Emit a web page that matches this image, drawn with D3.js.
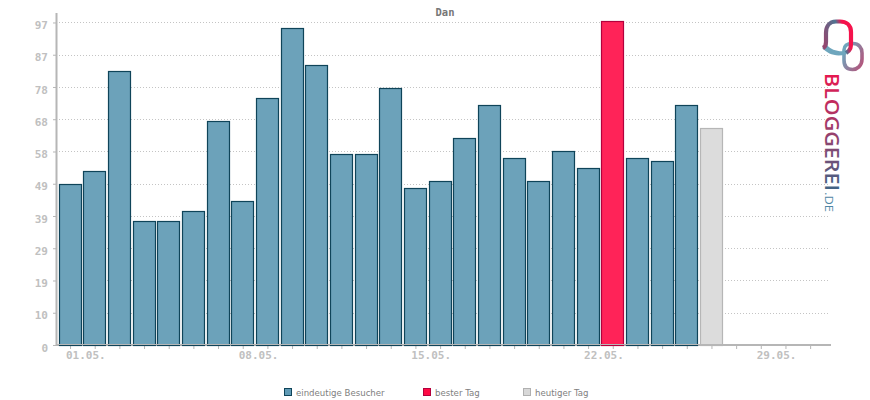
<!DOCTYPE html>
<html>
<head>
<meta charset="utf-8">
<script src="https://cdnjs.cloudflare.com/ajax/libs/d3/7.8.5/d3.min.js"></script>
<style>
  html, body { margin: 0; padding: 0; background: #fff; }
  svg { display: block; }
  text { font-family: "DejaVu Sans Mono", monospace; }
</style>
</head>
<body>
<div id="chart"></div>
<script>
// values
var days = ["01","02","03","04","05","06","07","08","09","10","11","12","13","14","15","16",
            "17","18","19","20","21","22","23","24","25","26","27","28","29","30","31"];
var visitors = [48,52,82,37,37,40,67,43,74,95,84,57,57,77,47,49,62,72,56,49,58,53,97,56,55,72,65];
var bestDay = "23";
var today = "27";
var labelDays = ["01","08","15","22","29"];
var yTicks = [0,9.7,19.4,29.1,38.8,48.5,58.2,67.9,77.6,87.3,97];
var yMax = 100;
var legendNames = ["eindeutige Besucher","bester Tag","heutiger Tag"];

var w = 870, h = 400;
var margin = {top: 12.5, right: 40, bottom: 55, left: 56};

var svg = d3.select("#chart").append("svg")
    .attr("width", w)
    .attr("height", h);

var x = d3.scaleBand()
    .domain(days)
    .range([58.2, 58.2 + 24.67 * 31]);

var y = d3.scaleLinear()
    .domain([0, yMax])
    .range([h - margin.bottom, margin.top]);

var axisColor = "#b6b6b6";

// grid
svg.append("g").selectAll("line")
    .data(yTicks.slice(1))
    .enter().append("line")
    .attr("x1", margin.left)
    .attr("x2", w - margin.right - 1)
    .attr("y1", function(d) { return Math.round(y(d)) + 0.5; })
    .attr("y2", function(d) { return Math.round(y(d)) + 0.5; })
    .attr("stroke", "#c4c4c4")
    .attr("stroke-dasharray", "1,2");

// x axis, ticks on every day and a label each week
var xAxis = svg.append("g")
    .attr("transform", "translate(0," + y(0) + ")")
    .call(d3.axisBottom(x)
      .tickSize(4)
      .tickSizeOuter(0)
      .tickFormat(function(d) { return labelDays.indexOf(d) >= 0 ? d + ".05." : ""; }));
xAxis.select(".domain").remove();
xAxis.selectAll("line").attr("stroke", axisColor);
xAxis.selectAll("text")
    .attr("x", 15.3)
    .attr("y", 6)
    .attr("font-size", "11px")
    .attr("font-weight", "bold")
    .attr("fill", "#c0c0c0");
xAxis.append("line")
    .attr("x1", margin.left)
    .attr("x2", w - margin.right + 1)
    .attr("stroke", axisColor)
    .attr("stroke-width", 2);

// bars
svg.append("g").selectAll("rect")
    .data(visitors)
    .enter().append("rect")
    .attr("x", function(d, i) { return Math.round(x(days[i]) + 1.3) - 0.5; })
    .attr("y", function(d) { return Math.round(y(d)) - 0.5; })
    .attr("width", Math.round(x.bandwidth() - 3))
    .attr("height", function(d) { return Math.round(y(0)) - Math.round(y(d)) + 1; })
    .attr("fill", function(d, i) {
      if (days[i] == bestDay) return "#ff2358";
      if (days[i] == today) return "#dcdcdc";
      return "#6ca2ba";
    })
    .attr("stroke", function(d, i) {
      if (days[i] == bestDay) return "#b3003c";
      if (days[i] == today) return "#b6b6b6";
      return "#0f4459";
    })
    .attr("stroke-width", 1.2);

// thin axis line runs over the bar bottoms
svg.append("line")
    .attr("x1", margin.left)
    .attr("x2", w - margin.right + 1)
    .attr("y1", y(0) - 0.5)
    .attr("y2", y(0) - 0.5)
    .attr("stroke", axisColor);

// y axis
var yAxis = svg.append("g")
    .attr("transform", "translate(" + margin.left + ",0)")
    .call(d3.axisLeft(y)
      .tickValues(yTicks)
      .tickSize(3)
      .tickSizeOuter(0)
      .tickFormat(d3.format(".0f")));
yAxis.select(".domain").attr("stroke", axisColor).attr("stroke-width", 2);
yAxis.selectAll("line").attr("stroke", axisColor);
yAxis.selectAll("text")
    .attr("x", -8)
    .attr("dy", "0.55em")
    .attr("font-size", "11px")
    .attr("font-weight", "bold")
    .attr("fill", "#c0c0c0");

// title
svg.append("text")
    .attr("x", 445)
    .attr("y", 16)
    .attr("text-anchor", "middle")
    .attr("font-size", "10.5px")
    .attr("font-weight", "bold")
    .attr("fill", "#777")
    .text("Dan");

// legend
var legendX = d3.scaleOrdinal().domain(legendNames).range([284, 423, 523]);
var legendFill = d3.scaleOrdinal().domain(legendNames).range(["#5f9ab5", "#ff0a45", "#d8d8d8"]);
var legendStroke = d3.scaleOrdinal().domain(legendNames).range(["#0f4459", "#b3003c", "#b0b0b0"]);
var legend = svg.append("g").selectAll("g")
    .data(legendNames)
    .enter().append("g")
    .attr("transform", function(d) { return "translate(" + legendX(d) + ",388)"; });
legend.append("rect")
    .attr("x", 0.5)
    .attr("y", 0.5)
    .attr("width", 7)
    .attr("height", 7)
    .attr("fill", function(d) { return legendFill(d); })
    .attr("stroke", function(d) { return legendStroke(d); });
legend.append("text")
    .attr("x", 12)
    .attr("y", 7.5)
    .style("font-family", "'DejaVu Sans', sans-serif")
    .attr("font-size", "8.6px")
    .attr("fill", "#808080")
    .text(function(d) { return d; });

// logo on the right
var defs = svg.append("defs");
var g1 = defs.append("linearGradient").attr("id", "logoText")
    .attr("gradientUnits", "userSpaceOnUse")
    .attr("x1", 0).attr("y1", 0).attr("x2", 118).attr("y2", 0);
g1.append("stop").attr("offset", "0").attr("stop-color", "#e8174f");
g1.append("stop").attr("offset", "0.5").attr("stop-color", "#9a3f6c");
g1.append("stop").attr("offset", "1").attr("stop-color", "#3f6585");
var g2 = defs.append("linearGradient").attr("id", "logoLeft")
    .attr("gradientUnits", "userSpaceOnUse")
    .attr("x1", 823).attr("y1", 40).attr("x2", 851).attr("y2", 30);
g2.append("stop").attr("offset", "0").attr("stop-color", "#94466f");
g2.append("stop").attr("offset", "0.6").attr("stop-color", "#4f7492");
g2.append("stop").attr("offset", "0.8").attr("stop-color", "#f5124c");
g2.append("stop").attr("offset", "1").attr("stop-color", "#f5124c");
var g3 = defs.append("linearGradient").attr("id", "logoRing")
    .attr("gradientUnits", "userSpaceOnUse")
    .attr("x1", 843).attr("y1", 52).attr("x2", 864).attr("y2", 62);
g3.append("stop").attr("offset", "0").attr("stop-color", "#6ea6bd");
g3.append("stop").attr("offset", "1").attr("stop-color", "#b3557c");

svg.append("path")
    .attr("d", "M852,43.5 C859,43 862,48 862,53 L862,59 C862,66 857,69.5 852.5,69.5 C846,69.5 844,65 844,60 L844,50 C844,46 847,43.5 852,43.5 Z")
    .attr("fill", "none").attr("stroke", "url(#logoRing)").attr("stroke-width", 3.6);
svg.append("path")
    .attr("d", "M846,54.5 C835,57 828,54 822,48 L827,45 C831,50 838,52 846,51 Z")
    .attr("fill", "#6ea6bd");
svg.append("path")
    .attr("d", "M846,53 C851,50 851,47 851,42 L851,32 C851,25 846,21.5 840,21.5 L836,21.5 C829,21.5 826,27 826,33 L826,42 C826,45 825,47 823,48")
    .attr("fill", "none").attr("stroke", "url(#logoLeft)").attr("stroke-width", 4.2);

svg.append("text")
    .attr("transform", "translate(825,73) rotate(90)")
    .style("font-family", "'Open Sans', sans-serif")
    .attr("font-size", "20px")
    .attr("font-weight", "600")
    .attr("textLength", 118)
    .attr("lengthAdjust", "spacingAndGlyphs")
    .attr("fill", "url(#logoText)")
    .text("BLOGGEREI");
svg.append("text")
    .attr("transform", "translate(825,192) rotate(90)")
    .style("font-family", "'Open Sans', sans-serif")
    .attr("font-size", "11px")
    .attr("textLength", 20)
    .attr("lengthAdjust", "spacingAndGlyphs")
    .attr("fill", "#4f86a4")
    .text(".DE");
</script>
</body>
</html>
